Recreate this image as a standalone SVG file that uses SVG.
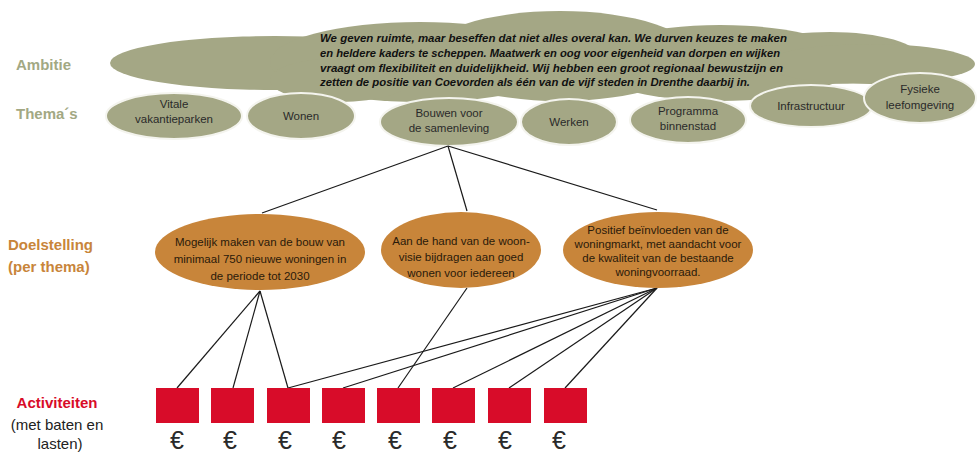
<svg xmlns="http://www.w3.org/2000/svg" width="980" height="456" viewBox="0 0 980 456">
<style>
.olive{fill:#a4a785}
.theme{fill:#a4a785;stroke:#f4f4ee;stroke-width:2}
.goal{fill:#c8853a}
.act{fill:#d80c29}
.lbl{font-family:"Liberation Sans",Arial,sans-serif;font-weight:bold;font-size:15px}
.t{font-family:"Liberation Sans",Arial,sans-serif;font-size:11.5px;fill:#2a2a2a;text-anchor:middle}
.g{font-family:"Liberation Sans",Arial,sans-serif;font-size:11.5px;fill:#2a1a0a;text-anchor:middle}
.amb{font-family:"Liberation Sans",Arial,sans-serif;font-size:11px;font-weight:bold;font-style:italic;fill:#111}
.eur{font-family:"Liberation Sans",Arial,sans-serif;font-size:25px;fill:#2a2a2a;text-anchor:middle}
.sub{font-family:"Liberation Sans",Arial,sans-serif;font-size:15px;fill:#222;text-anchor:middle}
.con line{stroke:#1a1a1a;stroke-width:1.2}
</style>
<rect width="980" height="456" fill="#ffffff"/>

<g id="labels">
<text class="lbl" x="16" y="70" fill="#a2a883">Ambitie</text>
<text class="lbl" x="16" y="119" fill="#a2a883">Thema´s</text>
<text class="lbl" x="8" y="250" fill="#c8853a">Doelstelling</text>
<text class="lbl" x="8" y="272" fill="#c8853a">(per thema)</text>
<text class="lbl" x="57" y="408" fill="#d80c29" text-anchor="middle">Activiteiten</text>
<text class="sub" x="57" y="430">(met baten en</text>
<text class="sub" x="60" y="449">lasten)</text>
</g>

<g id="ambitie">
<g class="olive">
<ellipse cx="275" cy="63" rx="165" ry="27"/>
<ellipse cx="420" cy="62" rx="150" ry="40"/>
<ellipse cx="560" cy="56" rx="135" ry="45"/>
<ellipse cx="720" cy="63" rx="135" ry="38"/>
<ellipse cx="830" cy="58" rx="90" ry="26"/>
<ellipse cx="870" cy="64" rx="105" ry="20"/>
<ellipse cx="340" cy="80" rx="70" ry="22"/>
</g>
<text class="amb" x="320" y="42" textLength="467" lengthAdjust="spacingAndGlyphs">We geven ruimte, maar beseffen dat niet alles overal kan. We durven keuzes te maken</text>
<text class="amb" x="320" y="57" textLength="460" lengthAdjust="spacingAndGlyphs">en heldere kaders te scheppen. Maatwerk en oog voor eigenheid van dorpen en wijken</text>
<text class="amb" x="320" y="72" textLength="463" lengthAdjust="spacingAndGlyphs">vraagt om flexibiliteit en duidelijkheid. Wij hebben een groot regionaal bewustzijn en</text>
<text class="amb" x="320" y="86" textLength="430" lengthAdjust="spacingAndGlyphs">zetten de positie van Coevorden als één van de vijf steden in Drenthe daarbij in.</text>
</g>

<g id="thema-vitale"><ellipse class="theme" cx="174" cy="116" rx="68" ry="23"/><text class="t" x="174" y="108">Vitale</text><text class="t" x="174" y="123">vakantieparken</text></g>
<g id="thema-wonen"><ellipse class="theme" cx="301" cy="116" rx="54" ry="23"/><text class="t" x="301" y="120">Wonen</text></g>
<g id="thema-bouwen"><ellipse class="theme" cx="449" cy="122" rx="69" ry="24"/><text class="t" x="449" y="117">Bouwen voor</text><text class="t" x="449" y="132">de samenleving</text></g>
<g id="thema-werken"><ellipse class="theme" cx="569" cy="122" rx="48" ry="23"/><text class="t" x="569" y="126">Werken</text></g>
<g id="thema-programma"><ellipse class="theme" cx="688" cy="120" rx="58" ry="23"/><text class="t" x="688" y="115">Programma</text><text class="t" x="688" y="130">binnenstad</text></g>
<g id="thema-infra"><ellipse class="theme" cx="811" cy="106" rx="61" ry="21"/><text class="t" x="811" y="110">Infrastructuur</text></g>
<g id="thema-fysieke"><ellipse class="theme" cx="920" cy="98" rx="56" ry="25"/><text class="t" x="920" y="93">Fysieke</text><text class="t" x="920" y="109">leefomgeving</text></g>

<g id="connectors" class="con">
<line x1="448" y1="146" x2="262" y2="213"/>
<line x1="448" y1="146" x2="467" y2="211"/>
<line x1="448" y1="146" x2="657" y2="210"/>
<line x1="260" y1="291" x2="177" y2="388"/>
<line x1="260" y1="291" x2="233" y2="388"/>
<line x1="260" y1="291" x2="288" y2="388"/>
<line x1="467" y1="288" x2="398" y2="388"/>
<line x1="657" y1="288" x2="288" y2="388"/>
<line x1="657" y1="288" x2="343" y2="388"/>
<line x1="657" y1="288" x2="453" y2="388"/>
<line x1="657" y1="288" x2="509" y2="388"/>
<line x1="657" y1="288" x2="565" y2="388"/>
</g>

<g id="doel-1"><ellipse class="goal" cx="260" cy="252" rx="105" ry="38"/><text class="g" x="260" y="246">Mogelijk maken van de bouw van</text><text class="g" x="260" y="263">minimaal 750 nieuwe woningen in</text><text class="g" x="260" y="280">de periode tot 2030</text></g>
<g id="doel-2"><ellipse class="goal" cx="461" cy="250" rx="80" ry="38"/><text class="g" x="461" y="245">Aan de hand van de woon-</text><text class="g" x="461" y="261">visie bijdragen aan goed</text><text class="g" x="461" y="277">wonen voor iedereen</text></g>
<g id="doel-3"><ellipse class="goal" cx="658" cy="250" rx="95" ry="38"/><text class="g" x="658" y="234">Positief beïnvloeden van de</text><text class="g" x="658" y="248">woningmarkt, met aandacht voor</text><text class="g" x="658" y="262">de kwaliteit van de bestaande</text><text class="g" x="658" y="276">woningvoorraad.</text></g>

<g id="act-1"><rect class="act" x="156" y="388" width="43" height="35"/><text class="eur" x="177" y="449">€</text></g>
<g id="act-2"><rect class="act" x="211" y="388" width="43" height="35"/><text class="eur" x="230" y="449">€</text></g>
<g id="act-3"><rect class="act" x="267" y="388" width="43" height="35"/><text class="eur" x="285" y="449">€</text></g>
<g id="act-4"><rect class="act" x="322" y="388" width="43" height="35"/><text class="eur" x="339" y="449">€</text></g>
<g id="act-5"><rect class="act" x="377" y="388" width="43" height="35"/><text class="eur" x="395" y="449">€</text></g>
<g id="act-6"><rect class="act" x="432" y="388" width="43" height="35"/><text class="eur" x="450" y="449">€</text></g>
<g id="act-7"><rect class="act" x="488" y="388" width="43" height="35"/><text class="eur" x="505" y="449">€</text></g>
<g id="act-8"><rect class="act" x="544" y="388" width="43" height="35"/><text class="eur" x="559" y="449">€</text></g>
</svg>
